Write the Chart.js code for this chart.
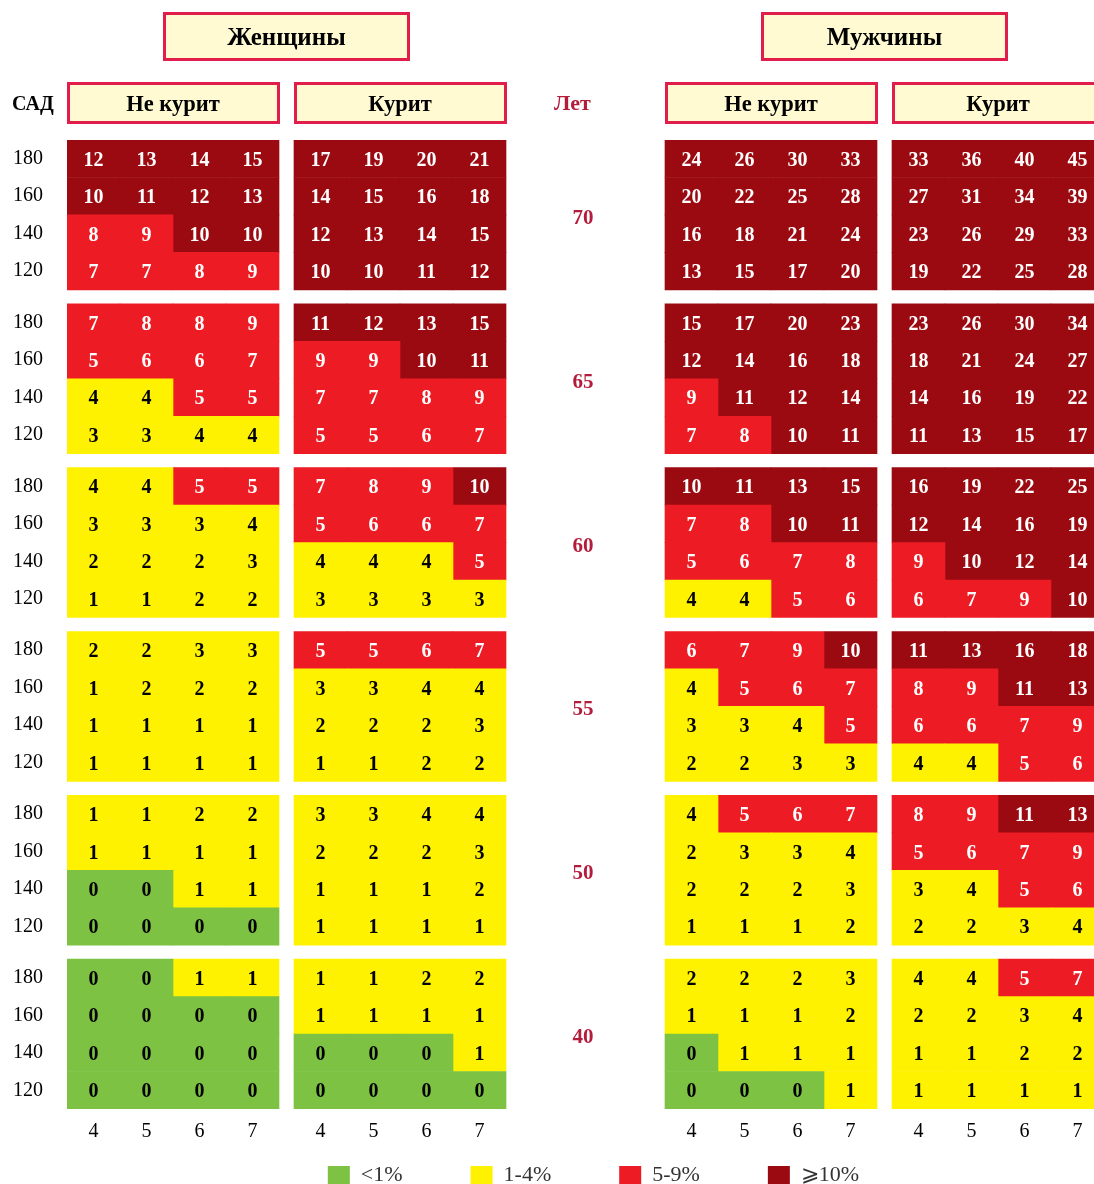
<!DOCTYPE html>
<html><head><meta charset="utf-8">
<script src="https://cdn.jsdelivr.net/npm/chart.js@4"></script>
<style>html,body{margin:0;padding:0;background:#fff;}canvas{display:block;}</style>
</head><body>
<canvas id="c" width="1094" height="1184"></canvas>
<script>
// ---------- data ----------
const ages = [70, 65, 60, 55, 50, 40];
const sadLabels = [180, 160, 140, 120];
const cholLabels = [4, 5, 6, 7];
const panelTitles = ['Не курит', 'Курит', 'Не курит', 'Курит'];
const groupTitles = ['Женщины', 'Мужчины'];
const riskClassLabels = ['<1%', '1-4%', '5-9%', '⩾10%'];

const womenNonSmoker = [
  [[12,13,14,15],[10,11,12,13],[8,9,10,10],[7,7,8,9]],
  [[7,8,8,9],[5,6,6,7],[4,4,5,5],[3,3,4,4]],
  [[4,4,5,5],[3,3,3,4],[2,2,2,3],[1,1,2,2]],
  [[2,2,3,3],[1,2,2,2],[1,1,1,1],[1,1,1,1]],
  [[1,1,2,2],[1,1,1,1],[0,0,1,1],[0,0,0,0]],
  [[0,0,1,1],[0,0,0,0],[0,0,0,0],[0,0,0,0]]
];
const womenSmoker = [
  [[17,19,20,21],[14,15,16,18],[12,13,14,15],[10,10,11,12]],
  [[11,12,13,15],[9,9,10,11],[7,7,8,9],[5,5,6,7]],
  [[7,8,9,10],[5,6,6,7],[4,4,4,5],[3,3,3,3]],
  [[5,5,6,7],[3,3,4,4],[2,2,2,3],[1,1,2,2]],
  [[3,3,4,4],[2,2,2,3],[1,1,1,2],[1,1,1,1]],
  [[1,1,2,2],[1,1,1,1],[0,0,0,1],[0,0,0,0]]
];
const menNonSmoker = [
  [[24,26,30,33],[20,22,25,28],[16,18,21,24],[13,15,17,20]],
  [[15,17,20,23],[12,14,16,18],[9,11,12,14],[7,8,10,11]],
  [[10,11,13,15],[7,8,10,11],[5,6,7,8],[4,4,5,6]],
  [[6,7,9,10],[4,5,6,7],[3,3,4,5],[2,2,3,3]],
  [[4,5,6,7],[2,3,3,4],[2,2,2,3],[1,1,1,2]],
  [[2,2,2,3],[1,1,1,2],[0,1,1,1],[0,0,0,1]]
];
const menSmoker = [
  [[33,36,40,45],[27,31,34,39],[23,26,29,33],[19,22,25,28]],
  [[23,26,30,34],[18,21,24,27],[14,16,19,22],[11,13,15,17]],
  [[16,19,22,25],[12,14,16,19],[9,10,12,14],[6,7,9,10]],
  [[11,13,16,18],[8,9,11,13],[6,6,7,9],[4,4,5,6]],
  [[8,9,11,13],[5,6,7,9],[3,4,5,6],[2,2,3,4]],
  [[4,4,5,7],[2,2,3,4],[1,1,2,2],[1,1,1,1]]
];
const panels = [womenNonSmoker, womenSmoker, menNonSmoker, menSmoker];

// ---------- layout / style ----------
const SERIF = "'Liberation Serif', 'Times New Roman', serif";
const riskColors = ['#7dc242', '#fff200', '#ed1c24', '#9b0a10'];
const riskTextColors = ['#000000', '#000000', '#ffffff', '#ffffff'];
const PANEL_START = [0, 4.283, 11.283, 15.566]; // in cell units
const BLOCK_GAP = 0.373;                        // in row units
const PITCH = 4 + BLOCK_GAP;
const X_MAX = 1027 / 53;
const Y_MAX = (ages.length - 1) * PITCH + 4;
const LEGEND_H = 40, LEGEND_ITEM_TOP = 1164, LEGEND_SHIFT = 13;

function riskClass(v) { return v < 1 ? 0 : v < 5 ? 1 : v < 10 ? 2 : 3; }

const datasets = riskClassLabels.map((lab, k) => ({
  label: lab, data: [], backgroundColor: riskColors[k], borderWidth: 0,
  grouped: false, barPercentage: 1, categoryPercentage: 1
}));
panels.forEach((panel, p) => {
  panel.forEach((block, b) => {
    block.forEach((row, r) => {
      row.forEach((v, c) => {
        const lo = (ages.length - 1 - b) * PITCH + (3 - r);
        datasets[riskClass(v)].data.push({ x: PANEL_START[p] + c + 0.5, y: [lo, lo + 1], v });
      });
    });
  });
});

const xTicks = [], xTickLabels = [];
PANEL_START.forEach(s => cholLabels.forEach((l, c) => { xTicks.push(s + c + 0.5); xTickLabels.push(l); }));
const yTicks = [], yTickLabels = [];
for (let b = ages.length - 1; b >= 0; b--) {
  for (let r = 3; r >= 0; r--) {
    yTicks.push((ages.length - 1 - b) * PITCH + (3 - r) + 0.5);
    yTickLabels.push(sadLabels[r]);
  }
}

const cellLabels = {
  id: 'cellLabels',
  afterDatasetsDraw(chart) {
    const ctx = chart.ctx;
    ctx.save();
    ctx.font = 'bold 20px ' + SERIF;
    ctx.textAlign = 'center';
    ctx.textBaseline = 'alphabetic';
    chart.data.datasets.forEach((ds, k) => {
      const meta = chart.getDatasetMeta(k);
      ctx.fillStyle = riskTextColors[k];
      meta.data.forEach((el, i) => {
        const pt = el.getCenterPoint();
        ctx.fillText(String(ds.data[i].v), pt.x, pt.y + 7);
      });
    });
    ctx.restore();
  }
};

function drawBox(ctx, l, t, r, b) {
  ctx.fillStyle = '#fffad2';
  ctx.fillRect(l, t, r - l, b - t);
  ctx.strokeStyle = '#e01d4b';
  ctx.lineWidth = 3;
  ctx.strokeRect(l + 1.5, t + 1.5, r - l - 3, b - t - 3);
}

const headers = {
  id: 'headers',
  afterDraw(chart) {
    const ctx = chart.ctx, xs = chart.scales.x, ys = chart.scales.y;
    ctx.save();
    ctx.textAlign = 'center';
    ctx.textBaseline = 'alphabetic';
    // group titles
    groupTitles.forEach((t, g) => {
      const l = xs.getPixelForValue(PANEL_START[2 * g]);
      const r = xs.getPixelForValue(PANEL_START[2 * g + 1] + 4);
      const cx = (l + r) / 2;
      drawBox(ctx, cx - 123.5, 12, cx + 123.5, 61);
      ctx.fillStyle = '#000';
      ctx.font = 'bold 25px ' + SERIF;
      ctx.fillText(t, cx, 45);
    });
    // panel titles
    panelTitles.forEach((t, p) => {
      const l = xs.getPixelForValue(PANEL_START[p]);
      const r = xs.getPixelForValue(PANEL_START[p] + 4);
      drawBox(ctx, l, 82, r + 1, 124);
      ctx.fillStyle = '#000';
      ctx.font = 'bold 22.5px ' + SERIF;
      ctx.fillText(t, (l + r) / 2, 111);
    });
    // САД
    ctx.textAlign = 'left';
    ctx.font = 'bold 20px ' + SERIF;
    ctx.fillText('САД', 12, 110);
    // Лет and ages
    const gapMid = (xs.getPixelForValue(PANEL_START[1] + 4) + xs.getPixelForValue(PANEL_START[2])) / 2;
    ctx.textAlign = 'center';
    ctx.fillStyle = '#b31d3b';
    ctx.font = 'bold 22px ' + SERIF;
    ctx.fillText('Лет', gapMid - 13, 110);
    ctx.font = 'bold 21px ' + SERIF;
    ages.forEach((a, b) => {
      const lo = (ages.length - 1 - b) * PITCH;
      const cy = (ys.getPixelForValue(lo) + ys.getPixelForValue(lo + 4)) / 2;
      ctx.fillText(String(a), gapMid - 2.5, cy + 9);
    });
    ctx.restore();
  }
};

const legendPlacement = {
  id: 'legendPlacement',
  afterInit(chart) {
    const lg = chart.legend;
    if (!lg || lg._placed) return;
    lg._placed = true;
    const fit = lg.fit.bind(lg);
    lg.fit = function () { fit(); if (this.isHorizontal()) this.height = LEGEND_H; };
    const draw = lg.draw.bind(lg);
    lg.draw = function () {
      const t = this.top, l = this.left, r = this.right;
      this.top = LEGEND_ITEM_TOP - this.options.labels.padding;
      this.left += LEGEND_SHIFT; this.right += LEGEND_SHIFT;
      draw();
      this.top = t; this.left = l; this.right = r;
    };
  }
};

new Chart(document.getElementById('c'), {
  type: 'bar',
  data: { datasets },
  plugins: [legendPlacement, cellLabels, headers],
  options: {
    responsive: false,
    devicePixelRatio: 1,
    animation: false,
    layout: { padding: { top: 140, left: 0, right: 0, bottom: 0 } },
    plugins: {
      tooltip: { enabled: false },
      legend: {
        position: 'bottom', fullSize: false,
        labels: { boxWidth: 22, boxHeight: 18, padding: 68, color: '#333', font: { family: SERIF, size: 22 } }
      }
    },
    scales: {
      x: {
        type: 'linear', min: 0, max: X_MAX, offset: false, bounds: 'data',
        grid: { display: false, drawTicks: false, offset: false }, border: { display: false },
        afterBuildTicks: s => { s.ticks = xTicks.map(v => ({ value: v })); },
        afterFit: s => { s.height = 35; },
        ticks: { autoSkip: false, maxRotation: 0, padding: 11, color: '#000', font: { family: SERIF, size: 20 },
                 callback: (v, i) => xTickLabels[i] }
      },
      y: {
        type: 'linear', min: 0, max: Y_MAX, bounds: 'data', beginAtZero: false,
        grid: { display: false, drawTicks: false }, border: { display: false },
        afterBuildTicks: s => { s.ticks = yTicks.map(v => ({ value: v })); },
        afterFit: s => { s.width = 67; },
        ticks: { autoSkip: false, padding: 24, color: '#000', font: { family: SERIF, size: 20 },
                 callback: (v, i) => yTickLabels[i] }
      }
    }
  }
});
</script>
</body></html>
